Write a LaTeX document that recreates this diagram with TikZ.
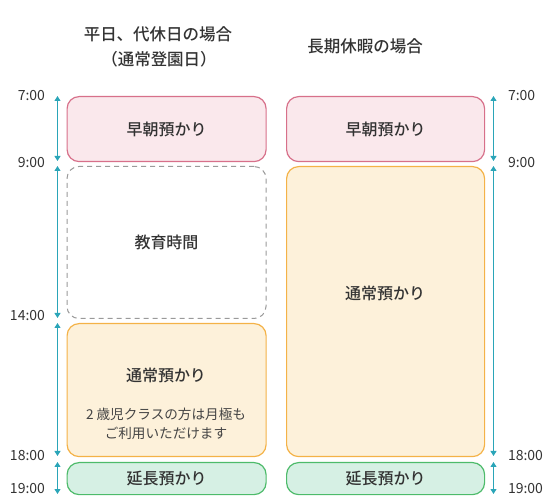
\documentclass[tikz,border=0pt]{standalone}
\usepackage{fontspec}
\setmainfont{Noto Sans CJK JP}
\newfontfamily\jpmed{Noto Sans CJK JP Medium}
\usetikzlibrary{arrows.meta}
\definecolor{pinkfill}{HTML}{FAE8EC}
\definecolor{pinkline}{HTML}{D7708A}
\definecolor{orfill}{HTML}{FDF1DA}
\definecolor{orline}{HTML}{F4B247}
\definecolor{grfill}{HTML}{D6F0E4}
\definecolor{grline}{HTML}{4DBB6A}
\definecolor{dashgray}{HTML}{9A9A9A}
\definecolor{teal}{HTML}{2AA5B8}
\definecolor{txt}{HTML}{333333}
\definecolor{subtxt}{HTML}{444444}
\tikzset{
  slot/.style={rounded corners=12pt, line width=1.2pt, inner sep=0pt, anchor=north west},
  pinkbox/.style={slot, fill=pinkfill, draw=pinkline},
  orbox/.style={slot, fill=orfill, draw=orline},
  grbox/.style={slot, fill=grfill, draw=grline},
  dashbox/.style={slot, draw=dashgray, dash pattern=on 5pt off 4pt, line width=1pt},
  lbl/.style={font=\jpmed\fontsize{16}{18}\selectfont, text=txt},
  sub/.style={font=\fontsize{13.6}{18.5}\selectfont, text=subtxt, align=center},
  ttl/.style={font=\jpmed\fontsize{16.5}{20}\selectfont, text=txt},
  tm/.style={font=\fontsize{14}{16}\selectfont, text=txt},
  span/.style={teal, line width=1pt, {Triangle[width=6pt,length=5pt]}-{Triangle[width=6pt,length=5pt]}, shorten <=0pt, shorten >=0pt}
}
\begin{document}
\begin{tikzpicture}[x=1pt,y=-1pt]
\useasboundingbox (0,0) rectangle (550,500);
% titles
\node[ttl] (t1) at (158,34) {平日、代休日の場合};
\node[ttl] (t2) at (159,59) {（通常登園日）};
\node[ttl] (t3) at (365,46.5) {長期休暇の場合};
% left column boxes
\node[pinkbox, minimum width=199pt, minimum height=65pt] (lp) at (66.5,96) {};
\node[dashbox, minimum width=199pt, minimum height=152pt] (ld) at (66.5,166) {};
\node[orbox, minimum width=199pt, minimum height=133pt] (lo) at (66.5,323) {};
\node[grbox, minimum width=199pt, minimum height=32pt] (lg) at (66.5,462) {};
\node[lbl] at (lp.center) {早朝預かり};
\node[lbl] at (ld.center) {教育時間};
\node[lbl] (lot) at (166,375) {通常預かり};
\node[sub] (los) at (166,424) {2 歳児クラスの方は月極も\\ご利用いただけます};
\node[lbl] at (lg.center) {延長預かり};
% right column boxes
\node[pinkbox, minimum width=198pt, minimum height=65pt] (rp) at (286,96) {};
\node[orbox, minimum width=198pt, minimum height=290pt] (ro) at (286,166) {};
\node[grbox, minimum width=198pt, minimum height=32pt] (rg) at (286,462) {};
\node[lbl] at (rp.center) {早朝預かり};
\node[lbl] at (385,293) {通常預かり};
\node[lbl] at (rg.center) {延長預かり};
% left time axis
\coordinate (a1) at (57.5,96);
\coordinate (a2) at (57.5,161);
\coordinate (a3) at (57.5,166);
\coordinate (a4) at (57.5,318);
\coordinate (a5) at (57.5,323);
\coordinate (a6) at (57.5,456);
\coordinate (a7) at (57.5,462);
\coordinate (a8) at (57.5,494);
\draw[span] (a1) -- (a2);
\draw[span] (a3) -- (a4);
\draw[span] (a5) -- (a6);
\draw[span] (a7) -- (a8);
\node[tm, anchor=east] (l7) at (48.5,96) {7:00};
\node[tm, anchor=east] (l9) at (48.5,163) {9:00};
\node[tm, anchor=east] (l14) at (48.5,316) {14:00};
\node[tm, anchor=east] (l18) at (48.5,456) {18:00};
\node[tm, anchor=east] (l19) at (48.5,489) {19:00};
% right time axis
\coordinate (b1) at (493.5,96);
\coordinate (b2) at (493.5,161);
\coordinate (b3) at (493.5,166);
\coordinate (b4) at (493.5,456);
\coordinate (b5) at (493.5,462);
\coordinate (b6) at (493.5,494);
\draw[span] (b1) -- (b2);
\draw[span] (b3) -- (b4);
\draw[span] (b5) -- (b6);
\node[tm, anchor=west] (r7) at (504.5,96) {7:00};
\node[tm, anchor=west] (r9) at (504.5,163) {9:00};
\node[tm, anchor=west] (r18) at (504.5,456) {18:00};
\node[tm, anchor=west] (r19) at (504.5,489) {19:00};
\end{tikzpicture}
\end{document}
